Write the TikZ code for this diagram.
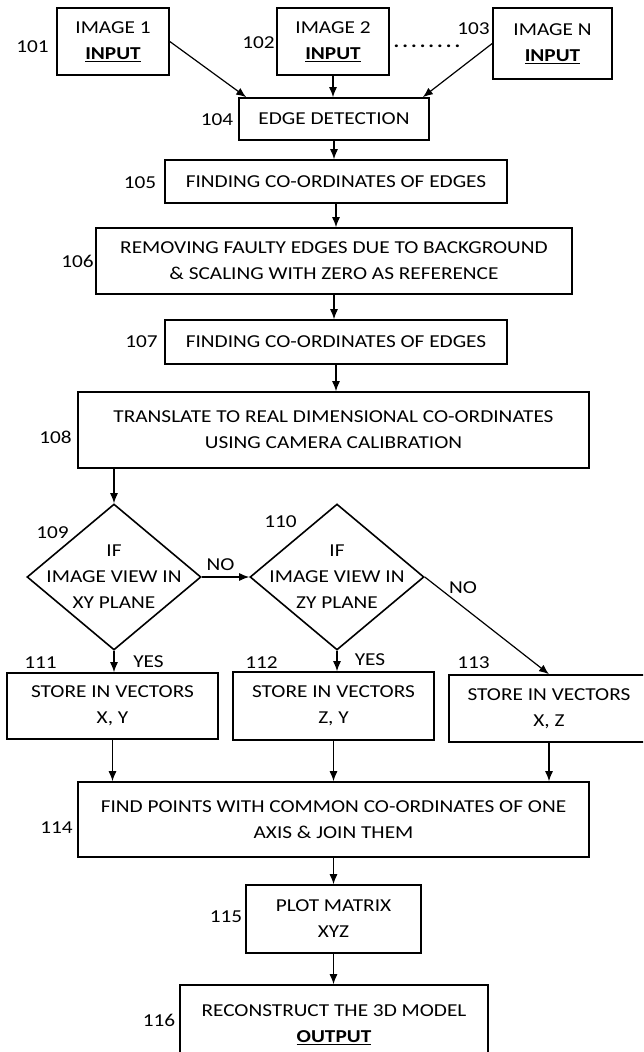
\documentclass[tikz,border=0pt]{standalone}
\usepackage{fontspec}
\setmainfont{Carlito}[FakeStretch=1.17]
\usetikzlibrary{shapes.geometric,arrows.meta}

\tikzset{
  stepbox/.style={draw, line width=1.6pt, align=center, inner sep=0pt},
  decision/.style={diamond, draw, line width=1.6pt, inner sep=0pt,
    minimum width=174pt, minimum height=146pt},
  refnum/.style={inner sep=0pt},
  flow/.style={-{Latex[length=10pt,width=8pt]}, line width=1.2pt},
}

\begin{document}
\begin{tikzpicture}[x=1pt, y=-1pt, font=\fontsize{18.2}{26}\selectfont]
\useasboundingbox (0,0) rectangle (643,1052);
\clip (0,0) rectangle (643,1052);

% input images
\node[stepbox, minimum width=112pt, minimum height=67pt] (img1) at (113,41.5) {IMAGE 1\\\underline{\textbf{INPUT}}};
\node[stepbox, minimum width=112pt, minimum height=67pt] (img2) at (333,41.5) {IMAGE 2\\\underline{\textbf{INPUT}}};
\node[stepbox, minimum width=119pt, minimum height=71pt] (imgN) at (552.5,43.5) {IMAGE N\\\underline{\textbf{INPUT}}};
\node[refnum, anchor=base] (dots) at (427,47) {\smash{\textbf{.\,.\,.\,.\,.\,.\,.\,.}}};

% processing chain
\node[stepbox, minimum width=190pt, minimum height=42pt] (edge) at (334,119) {EDGE DETECTION};
\node[stepbox, minimum width=342pt, minimum height=43pt] (coord) at (336,181.5) {FINDING CO-ORDINATES OF EDGES};
\node[stepbox, minimum width=476pt, minimum height=66pt] (remove) at (334,261) {REMOVING FAULTY EDGES DUE TO BACKGROUND\\\& SCALING WITH ZERO AS REFERENCE};
\node[stepbox, minimum width=342pt, minimum height=44pt] (coordb) at (336,342) {FINDING CO-ORDINATES OF EDGES};
\node[stepbox, minimum width=511pt, minimum height=76pt] (real) at (333.5,430) {TRANSLATE TO REAL DIMENSIONAL CO-ORDINATES\\USING CAMERA CALIBRATION};

% plane decisions
\node[decision, label={[align=center, inner sep=0pt]center:IF\\IMAGE VIEW IN\\XY PLANE}] (xy) at (114,577) {};
\node[decision, label={[align=center, inner sep=0pt]center:IF\\IMAGE VIEW IN\\ZY PLANE}] (zy) at (337,577) {};

% vectors
\node[stepbox, minimum width=211pt, minimum height=66pt] (vxy) at (112.5,706) {STORE IN VECTORS\\X, Y};
\node[stepbox, minimum width=201pt, minimum height=68pt] (vzy) at (333.5,706) {STORE IN VECTORS\\Z, Y};
\node[stepbox, minimum width=200pt, minimum height=67pt] (vxz) at (549,708.5) {STORE IN VECTORS\\X, Z};

\node[stepbox, minimum width=511pt, minimum height=75pt] (join) at (333.5,819.5) {FIND POINTS WITH COMMON CO-ORDINATES OF ONE\\AXIS \& JOIN THEM};
\node[stepbox, minimum width=175pt, minimum height=68pt] (plot) at (333.5,919) {PLOT MATRIX\\XYZ};
\node[stepbox, minimum width=308pt, minimum height=80pt] (model) at (334,1025) {RECONSTRUCT THE 3D MODEL\\\underline{\textbf{OUTPUT}}};

% reference numbers
\node[refnum] (n101) at (32.5,47) {101};
\node[refnum] (n102) at (258.5,43) {102};
\node[refnum] (n103) at (473.5,29) {103};
\node[refnum] (n104) at (217,120) {104};
\node[refnum] (n105) at (140,183) {105};
\node[refnum] (n106) at (77.5,261) {106};
\node[refnum] (n107) at (141.5,342) {107};
\node[refnum] (n108) at (55.5,437) {108};
\node[refnum] (n109) at (52.5,533) {109};
\node[refnum] (n110) at (280.5,522) {110};
\node[refnum] (n111) at (40.5,663) {111};
\node[refnum] (n112) at (261.5,663) {112};
\node[refnum] (n113) at (473.5,663) {113};
\node[refnum] (n114) at (56.5,828) {114};
\node[refnum] (n115) at (226,917) {115};
\node[refnum] (n116) at (159,1020) {116};

\node[refnum] (no1) at (220.5,565) {NO};
\node[refnum] (no2) at (463,588) {NO};
\node[refnum] (yes1) at (148.5,662) {YES};
\node[refnum] (yes2) at (370,660) {YES};

% connectors
\draw[flow] (img1.east) -- ([xshift=8pt]edge.north west);
\draw[flow] (img2.south) -- (img2.south |- edge.north);
\draw[flow] (imgN.west) -- ([xshift=-7pt]edge.north east);
\draw[flow] (edge.south) -- (edge.south |- coord.north);
\draw[flow] (coord.south) -- (coord.south |- remove.north);
\draw[flow] (remove.south) -- (remove.south |- coordb.north);
\draw[flow] (coordb.south) -- (coordb.south |- real.north);
\draw[flow] (xy.north |- real.south) -- (xy.north);
\draw[flow] (xy.east) -- (zy.west);
\draw[flow] (zy.east) -- (vxz.north);
\draw[flow] (xy.south) -- (xy.south |- vxy.north);
\draw[flow] (zy.south) -- (zy.south |- vzy.north);
\draw[flow] (vxy.south) -- (vxy.south |- join.north);
\draw[flow] (vzy.south) -- (vzy.south |- join.north);
\draw[flow] (vxz.south) -- (vxz.south |- join.north);
\draw[flow] (join.south) -- (join.south |- plot.north);
\draw[flow] (plot.south) -- (plot.south |- model.north);
\end{tikzpicture}
\end{document}
